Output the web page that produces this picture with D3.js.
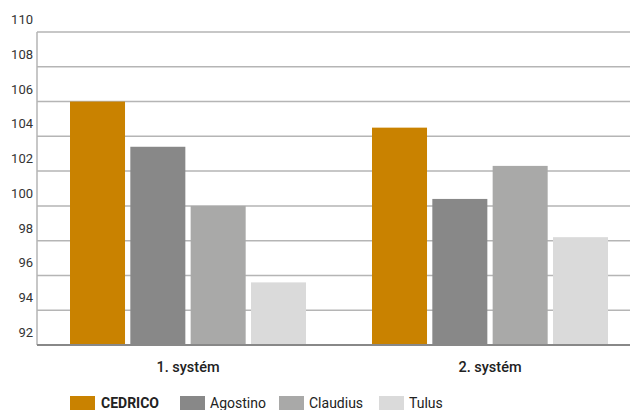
<!DOCTYPE html>
<html>
<head>
<meta charset="utf-8">
<script src="https://cdn.jsdelivr.net/npm/d3@7"></script>
<style>
  html, body { margin: 0; padding: 0; background: #fff; }
  svg { display: block; font-family: Roboto, "Open Sans", sans-serif; }
</style>
</head>
<body>
<svg id="chart" width="630" height="410"></svg>
<script>
const categories = ["1. systém", "2. systém"];
const seriesNames = ["CEDRICO", "Agostino", "Claudius", "Tulus"];
const seriesColors = ["#C98200", "#888888", "#A9A9A8", "#DADADA"];
const cedrico  = [106.0, 104.5];
const agostino = [103.4, 100.4];
const claudius = [100.0, 102.3];
const tulus    = [95.6, 98.2];
const yTicks = [92, 94, 96, 98, 100, 102, 104, 106, 108, 110];

const seriesValues = [cedrico, agostino, claudius, tulus];

const svg = d3.select("#chart");
const mLeft = 37, mRight = 641, mTop = 32, mBottom = 345;
const groupW = 236;

const x0 = d3.scaleBand().domain(categories).range([mLeft, mRight]).padding(0);
const x1 = d3.scaleBand().domain(seriesNames).range([0, groupW]).paddingInner(0.088).paddingOuter(0);
const y = d3.scaleLinear().domain([92, 110]).range([mBottom, mTop]);

// gridlines
svg.append("g").selectAll("line").data(yTicks.filter(t => t !== 92)).join("line")
  .attr("x1", mLeft).attr("x2", 630)
  .attr("y1", d => y(d)).attr("y2", d => y(d))
  .attr("stroke", "#b5b5b5").attr("stroke-width", 1.5);

// y tick labels (drawn above their gridline)
svg.append("g").selectAll("text").data(yTicks).join("text")
  .attr("x", 33).attr("y", d => y(d) - 12.5)
  .attr("text-anchor", "end").attr("dominant-baseline", "central")
  .attr("font-size", 13).attr("fill", "#333")
  .text(d => d);

// bars
const groups = svg.append("g").selectAll("g").data(categories).join("g")
  .attr("transform", c => `translate(${x0(c) + (x0.bandwidth() - groupW) / 2},0)`);
groups.selectAll("rect").data((c, ci) => seriesNames.map((s, si) => ({ s, si, v: seriesValues[si][ci] })))
  .join("rect")
  .attr("x", d => x1(d.s)).attr("width", x1.bandwidth())
  .attr("y", d => y(d.v)).attr("height", d => y(92) - y(d.v))
  .attr("fill", d => seriesColors[d.si]);

// axes lines
svg.append("line").attr("x1", mLeft).attr("x2", mLeft).attr("y1", mTop).attr("y2", mBottom)
  .attr("stroke", "#b5b5b5").attr("stroke-width", 1.5);
svg.append("line").attr("x1", mLeft).attr("x2", 630).attr("y1", mBottom).attr("y2", mBottom)
  .attr("stroke", "#888").attr("stroke-width", 2);

// category labels
svg.append("g").selectAll("text").data(categories).join("text")
  .attr("x", c => x0(c) + x0.bandwidth() / 2)
  .attr("y", 372)
  .attr("text-anchor", "middle").attr("font-size", 14.5).attr("font-weight", 500)
  .attr("fill", "#222")
  .text(c => c);

// legend
const legendX = [70, 180, 279, 379];
const lg = svg.append("g").selectAll("g").data(seriesNames).join("g")
  .attr("transform", (d, i) => `translate(${legendX[i]},396)`);
lg.append("rect").attr("width", 25).attr("height", 14).attr("fill", (d, i) => seriesColors[i]);
lg.append("text").attr("x", (d, i) => i === 0 ? 31 : 30).attr("y", 12)
  .attr("font-size", 14).attr("fill", "#222")
  .attr("font-weight", (d, i) => i === 0 ? 700 : 400)
  .text(d => d);
</script>
</body>
</html>
